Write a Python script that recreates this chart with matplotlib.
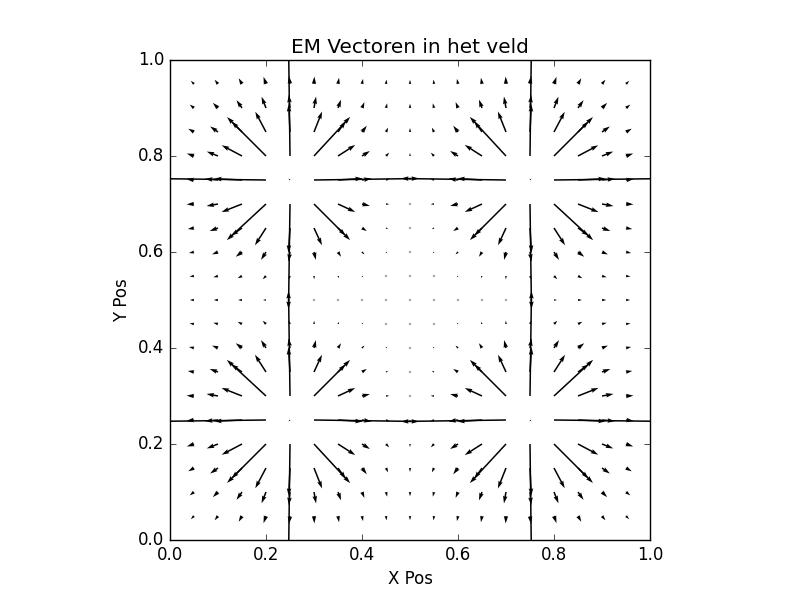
import numpy as np
import matplotlib
matplotlib.use('Agg')
import matplotlib.pyplot as plt

plt.style.use('classic')

# point charges (positions and charge)
charge_x = [0.25, 0.25, 0.75, 0.75]
charge_y = [0.25, 0.75, 0.25, 0.75]
charge_q = [1.0, 1.0, 1.0, 1.0]

# sample grid
grid_x = np.arange(1, 20) * 0.05
grid_y = np.arange(1, 20) * 0.05

X, Y = np.meshgrid(grid_x, grid_y)
Ex = np.zeros_like(X)
Ey = np.zeros_like(Y)
for cx, cy, q in zip(charge_x, charge_y, charge_q):
    dx = X - cx
    dy = Y - cy
    r = np.sqrt(dx**2 + dy**2)
    with np.errstate(divide='ignore', invalid='ignore'):
        ex = np.where(r > 1e-9, q * dx / r**3, 0.0)
        ey = np.where(r > 1e-9, q * dy / r**3, 0.0)
    Ex += ex
    Ey += ey

fig = plt.figure(figsize=(8, 6), dpi=100)
ax = fig.add_subplot(111)
ax.quiver(X, Y, Ex, Ey, angles='xy', scale_units='xy', scale=1800)
ax.set_xlim(0, 1)
ax.set_ylim(0, 1)
ax.set_aspect('equal')
ax.set_title('EM Vectoren in het veld')
ax.set_xlabel('X Pos')
ax.set_ylabel('Y Pos')

fig.savefig('out.png', dpi=100, facecolor='white')
